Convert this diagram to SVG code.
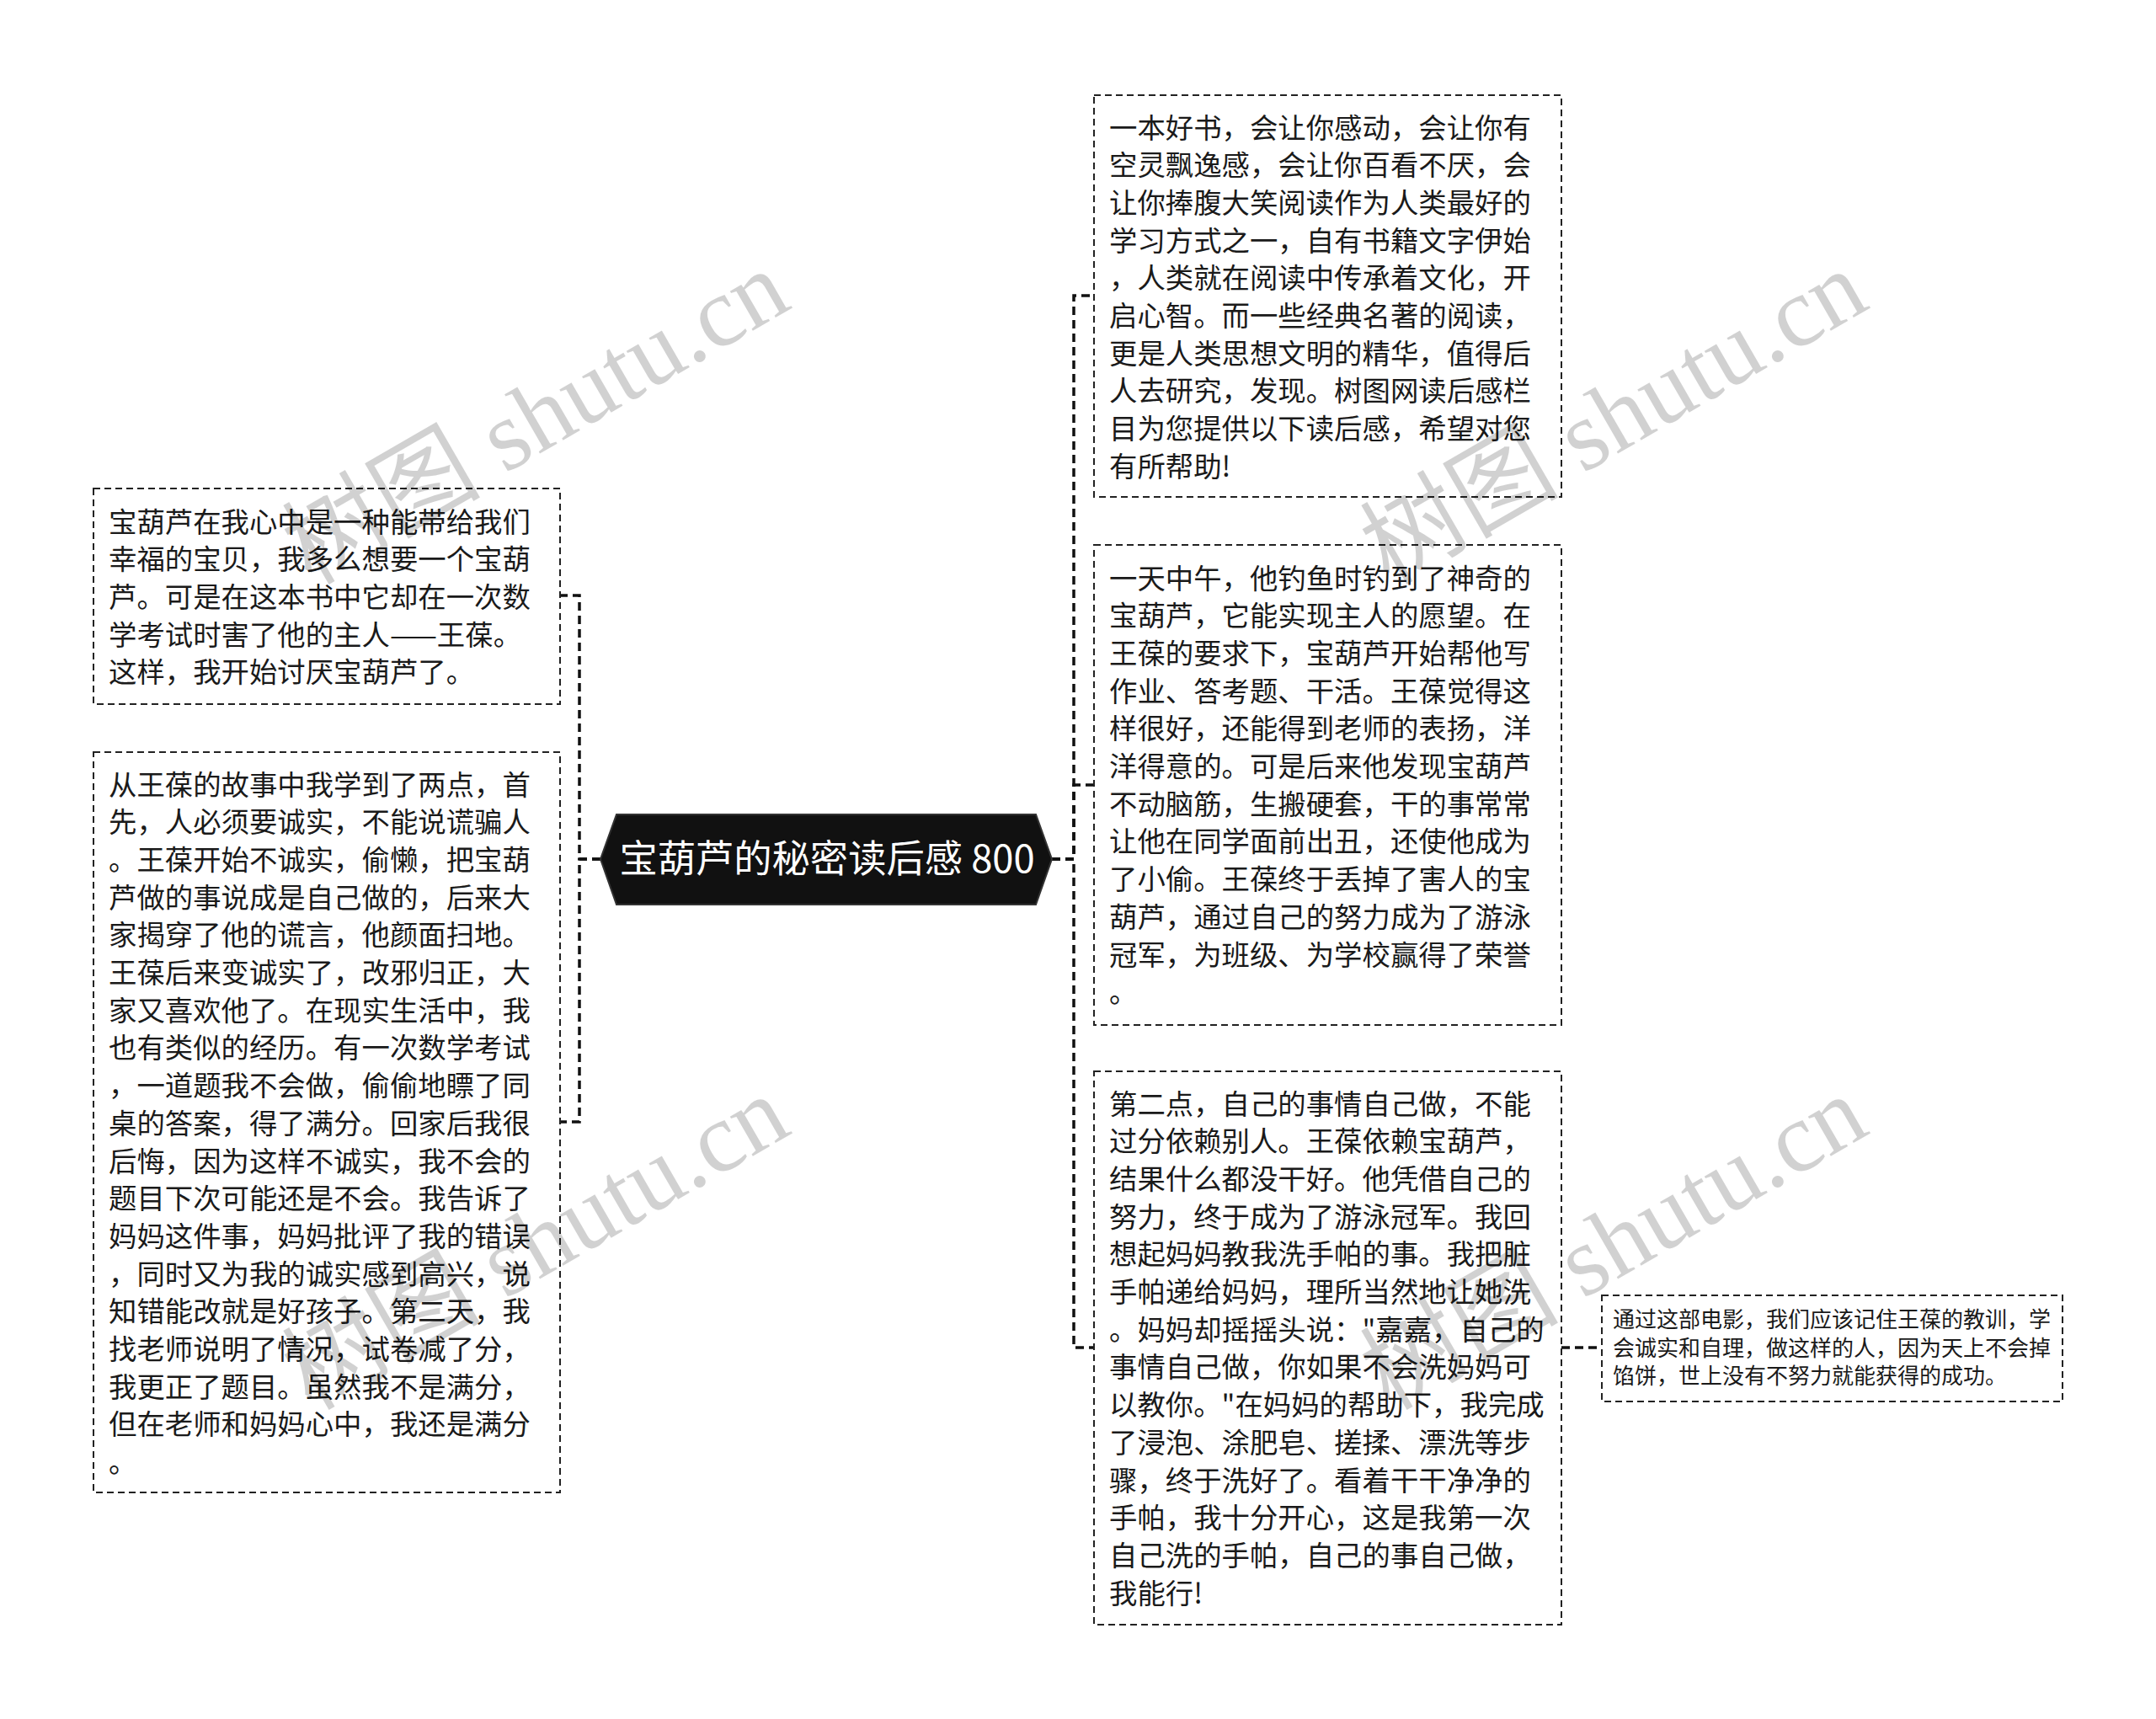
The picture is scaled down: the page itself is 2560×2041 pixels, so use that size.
<svg xmlns="http://www.w3.org/2000/svg" width="2560" height="2041" viewBox="0 0 2560 2041">
<style>
.box{fill:#fff;stroke:#222;stroke-width:2;stroke-dasharray:8,5}
.t{font-family:"Noto Sans CJK SC","Noto Sans",sans-serif;font-size:33.4px;fill:#1a1a1a}
.ts{font-family:"Noto Sans CJK SC","Noto Sans",sans-serif;font-size:26px;fill:#1a1a1a}
.conn{fill:none;stroke:#111;stroke-width:3.5;stroke-dasharray:10,6}
.wm{font-family:"Liberation Serif","Noto Sans CJK SC",serif;font-size:118px;fill:#000;fill-opacity:0.18}
</style>
<rect width="2560" height="2041" fill="#fff"/>
<g id="connectors">
<path class="conn" d="M713,1020 H688 V707 H665"/>
<path class="conn" d="M713,1020 H688 V1332 H665"/>
<path class="conn" d="M1249,1020 H1275 V351 H1299"/>
<path class="conn" d="M1249,1020 H1275 V932 H1299"/>
<path class="conn" d="M1249,1020 H1275 V1600 H1299"/>
<path class="conn" d="M1854,1600 H1902"/>
</g>
<g id="center">
<polygon points="713,1020 732,967 1230,967 1249,1020 1230,1074 732,1074" fill="#111" stroke="#333" stroke-width="2"/>
<text x="982" y="1036" text-anchor="middle" font-family="Noto Sans CJK SC,Noto Sans,sans-serif" font-size="45.3" fill="#fff">宝葫芦的秘密读后感 800</text>
</g>
<g id="left1">
<rect class="box" x="111" y="580" width="554" height="256"/>
<text class="t">
<tspan x="129" y="631.5">宝葫芦在我心中是一种能带给我们</tspan>
<tspan x="129" y="676.2">幸福的宝贝，我多么想要一个宝葫</tspan>
<tspan x="129" y="720.9">芦。可是在这本书中它却在一次数</tspan>
<tspan x="129" y="765.6">学考试时害了他的主人——王葆。</tspan>
<tspan x="129" y="810.3">这样，我开始讨厌宝葫芦了。</tspan>
</text>
</g>
<g id="left2">
<rect class="box" x="111" y="893" width="554" height="879"/>
<text class="t">
<tspan x="129" y="943.5">从王葆的故事中我学到了两点，首</tspan>
<tspan x="129" y="988.2">先，人必须要诚实，不能说谎骗人</tspan>
<tspan x="129" y="1032.9">。王葆开始不诚实，偷懒，把宝葫</tspan>
<tspan x="129" y="1077.6">芦做的事说成是自己做的，后来大</tspan>
<tspan x="129" y="1122.3">家揭穿了他的谎言，他颜面扫地。</tspan>
<tspan x="129" y="1167.0">王葆后来变诚实了，改邪归正，大</tspan>
<tspan x="129" y="1211.7">家又喜欢他了。在现实生活中，我</tspan>
<tspan x="129" y="1256.4">也有类似的经历。有一次数学考试</tspan>
<tspan x="129" y="1301.1">，一道题我不会做，偷偷地瞟了同</tspan>
<tspan x="129" y="1345.8">桌的答案，得了满分。回家后我很</tspan>
<tspan x="129" y="1390.5">后悔，因为这样不诚实，我不会的</tspan>
<tspan x="129" y="1435.2">题目下次可能还是不会。我告诉了</tspan>
<tspan x="129" y="1479.9">妈妈这件事，妈妈批评了我的错误</tspan>
<tspan x="129" y="1524.6">，同时又为我的诚实感到高兴，说</tspan>
<tspan x="129" y="1569.3">知错能改就是好孩子。第二天，我</tspan>
<tspan x="129" y="1614.0">找老师说明了情况，试卷减了分，</tspan>
<tspan x="129" y="1658.7">我更正了题目。虽然我不是满分，</tspan>
<tspan x="129" y="1703.4">但在老师和妈妈心中，我还是满分</tspan>
<tspan x="129" y="1748.1">。</tspan>
</text>
</g>
<g id="right1">
<rect class="box" x="1299" y="113" width="555" height="477"/>
<text class="t">
<tspan x="1317" y="163.5">一本好书，会让你感动，会让你有</tspan>
<tspan x="1317" y="208.2">空灵飘逸感，会让你百看不厌，会</tspan>
<tspan x="1317" y="252.9">让你捧腹大笑阅读作为人类最好的</tspan>
<tspan x="1317" y="297.6">学习方式之一，自有书籍文字伊始</tspan>
<tspan x="1317" y="342.3">，人类就在阅读中传承着文化，开</tspan>
<tspan x="1317" y="387.0">启心智。而一些经典名著的阅读，</tspan>
<tspan x="1317" y="431.7">更是人类思想文明的精华，值得后</tspan>
<tspan x="1317" y="476.4">人去研究，发现。树图网读后感栏</tspan>
<tspan x="1317" y="521.1">目为您提供以下读后感，希望对您</tspan>
<tspan x="1317" y="565.8">有所帮助!</tspan>
</text>
</g>
<g id="right2">
<rect class="box" x="1299" y="647" width="555" height="570"/>
<text class="t">
<tspan x="1317" y="698.5">一天中午，他钓鱼时钓到了神奇的</tspan>
<tspan x="1317" y="743.2">宝葫芦，它能实现主人的愿望。在</tspan>
<tspan x="1317" y="787.9">王葆的要求下，宝葫芦开始帮他写</tspan>
<tspan x="1317" y="832.6">作业、答考题、干活。王葆觉得这</tspan>
<tspan x="1317" y="877.3">样很好，还能得到老师的表扬，洋</tspan>
<tspan x="1317" y="922.0">洋得意的。可是后来他发现宝葫芦</tspan>
<tspan x="1317" y="966.7">不动脑筋，生搬硬套，干的事常常</tspan>
<tspan x="1317" y="1011.4">让他在同学面前出丑，还使他成为</tspan>
<tspan x="1317" y="1056.1">了小偷。王葆终于丢掉了害人的宝</tspan>
<tspan x="1317" y="1100.8">葫芦，通过自己的努力成为了游泳</tspan>
<tspan x="1317" y="1145.5">冠军，为班级、为学校赢得了荣誉</tspan>
<tspan x="1317" y="1190.2">。</tspan>
</text>
</g>
<g id="right3">
<rect class="box" x="1299" y="1272" width="555" height="657"/>
<text class="t">
<tspan x="1317" y="1322.5">第二点，自己的事情自己做，不能</tspan>
<tspan x="1317" y="1367.2">过分依赖别人。王葆依赖宝葫芦，</tspan>
<tspan x="1317" y="1411.9">结果什么都没干好。他凭借自己的</tspan>
<tspan x="1317" y="1456.6">努力，终于成为了游泳冠军。我回</tspan>
<tspan x="1317" y="1501.3">想起妈妈教我洗手帕的事。我把脏</tspan>
<tspan x="1317" y="1546.0">手帕递给妈妈，理所当然地让她洗</tspan>
<tspan x="1317" y="1590.7">。妈妈却摇摇头说："嘉嘉，自己的</tspan>
<tspan x="1317" y="1635.4">事情自己做，你如果不会洗妈妈可</tspan>
<tspan x="1317" y="1680.1">以教你。"在妈妈的帮助下，我完成</tspan>
<tspan x="1317" y="1724.8">了浸泡、涂肥皂、搓揉、漂洗等步</tspan>
<tspan x="1317" y="1769.5">骤，终于洗好了。看着干干净净的</tspan>
<tspan x="1317" y="1814.2">手帕，我十分开心，这是我第一次</tspan>
<tspan x="1317" y="1858.9">自己洗的手帕，自己的事自己做，</tspan>
<tspan x="1317" y="1903.6">我能行!</tspan>
</text>
</g>
<g id="small">
<rect class="box" x="1902" y="1538" width="547" height="126"/>
<text class="ts">
<tspan x="1915" y="1576">通过这部电影，我们应该记住王葆的教训，学</tspan>
<tspan x="1915" y="1610">会诚实和自理，做这样的人，因为天上不会掉</tspan>
<tspan x="1915" y="1643">馅饼，世上没有不努力就能获得的成功。</tspan>
</text>
</g>
<g id="watermarks">
<text class="wm" text-anchor="middle" transform="translate(656,530) rotate(-30)">树图 shutu.cn</text>
<text class="wm" text-anchor="middle" transform="translate(1936,530) rotate(-30)">树图 shutu.cn</text>
<text class="wm" text-anchor="middle" transform="translate(656,1510) rotate(-30)">树图 shutu.cn</text>
<text class="wm" text-anchor="middle" transform="translate(1936,1510) rotate(-30)">树图 shutu.cn</text>
</g>
</svg>
